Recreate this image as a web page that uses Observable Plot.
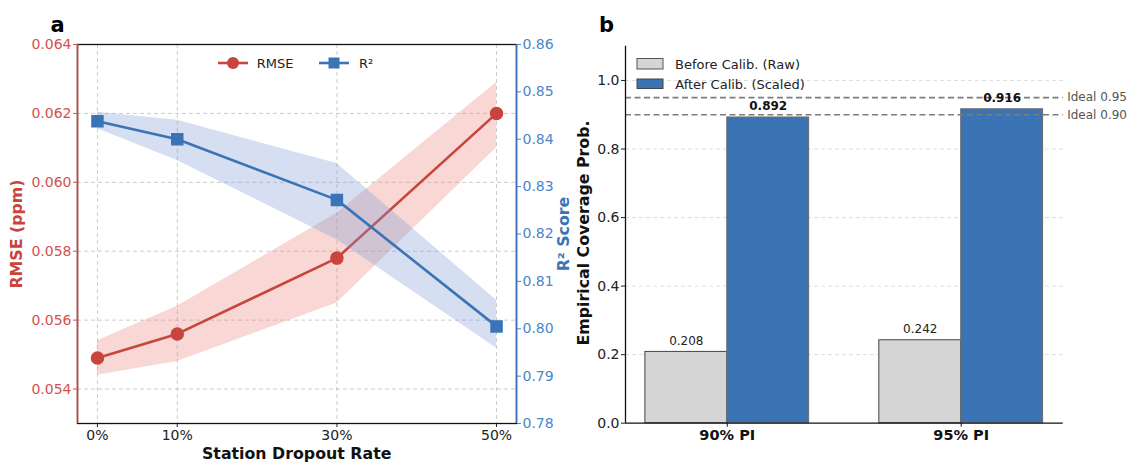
<!DOCTYPE html>
<html><head><meta charset="utf-8">
<script src="https://cdn.jsdelivr.net/npm/d3@7"></script>
<script src="https://cdn.jsdelivr.net/npm/@observablehq/plot@0.6"></script>
<style>
body{margin:0;background:#fff;font-family:"DejaVu Sans",sans-serif;}
#wrap{position:relative;width:1129px;height:465px;overflow:hidden;background:#fff;}
.lbl{position:absolute;white-space:nowrap;transform:translate(-50%,-50%);line-height:1;}
.rot{transform:translate(-50%,-50%) rotate(-90deg);}
</style></head><body><div id="wrap"></div>
<script>
// ---------- data ----------
const rates = [0, 10, 30, 50];
const rmse   = [0.0549, 0.0556, 0.0578, 0.0620];
const rmseLo = [0.0544, 0.0548, 0.0565, 0.0610];
const rmseHi = [0.0554, 0.0564, 0.0591, 0.0629];
const r2   = [0.8438, 0.8400, 0.8272, 0.8005];
const r2Lo = [0.8422, 0.8355, 0.8188, 0.7959];
const r2Hi = [0.8457, 0.8440, 0.8349, 0.8060];
const rmseTicks = [0.054, 0.056, 0.058, 0.060, 0.062, 0.064];
const r2Ticks = [0.78, 0.79, 0.80, 0.81, 0.82, 0.83, 0.84, 0.85, 0.86];

const groups = ["90% PI", "95% PI"];
const before = [0.208, 0.242];
const after  = [0.892, 0.916];
const ideals = [0.95, 0.90];
const covTicks = [0.0, 0.2, 0.4, 0.6, 0.8, 1.0];

// ---------- style ----------
const W = 1129, H = 465;
const RED = "#C8453D", RED_T = "#D4524B";
const BLUE = "#3A74B6", BLUE_T = "#4A86CA";
const wrap = document.getElementById("wrap");
const baseStyle = {background:"transparent", fontFamily:"DejaVu Sans, sans-serif", fontSize:"14px", overflow:"visible", maxWidth:"none"};
function place(svg){ svg.style.position="absolute"; svg.style.left="0px"; svg.style.top="0px"; wrap.appendChild(svg); }
function label(text, x, y, css, rot){
  const d=document.createElement("div"); d.className="lbl"+(rot?" rot":""); d.textContent=text;
  d.style.left=x+"px"; d.style.top=y+"px"; Object.assign(d.style, css); wrap.appendChild(d); return d;
}

const rows = rates.map((r,i)=>({rate:r, rmse:rmse[i], lo:rmseLo[i], hi:rmseHi[i], r2:r2[i], r2lo:r2Lo[i], r2hi:r2Hi[i]}));
const xDomA = [-2.5, 52.5];
const mA = {marginLeft:77, marginRight:W-516, marginTop:44, marginBottom:H-423};
const grid = {stroke:"#b8b8b8", strokeOpacity:0.8, strokeDasharray:"4,3", strokeWidth:0.9};

// Panel a: RMSE (left axis)
place(Plot.plot({width:W, height:H, ...mA, style:baseStyle,
  x:{domain:xDomA}, y:{domain:[0.053, 0.064]},
  marks:[
    Plot.gridX(rates, grid),
    Plot.gridY(rmseTicks, grid),
    Plot.areaY(rows, {x:"rate", y1:"lo", y2:"hi", fill:"#E8837A", fillOpacity:0.32}),
    Plot.line(rows, {x:"rate", y:"rmse", stroke:RED, strokeWidth:2.6}),
    Plot.dot(rows, {x:"rate", y:"rmse", r:6, fill:RED, stroke:RED, symbol:"circle"}),
    Plot.frame({stroke:"#111", strokeWidth:1.3}),
    Plot.ruleX([xDomA[0]], {stroke:RED, strokeWidth:1.6}),
    Plot.axisX({ticks:rates, tickFormat:d=>d+"%", tickSize:4, tickPadding:3, label:null, color:"#222"}),
    Plot.axisY({ticks:rmseTicks, tickFormat:d3.format(".3f"), tickSize:4, tickPadding:2, label:null, color:RED_T})
  ]}));

// Panel a: R² (right axis overlay)
place(Plot.plot({width:W, height:H, ...mA, style:baseStyle,
  x:{domain:xDomA, axis:null}, y:{domain:[0.78, 0.86]},
  marks:[
    Plot.areaY(rows, {x:"rate", y1:"r2lo", y2:"r2hi", fill:"#7C9AD4", fillOpacity:0.32}),
    Plot.line(rows, {x:"rate", y:"r2", stroke:BLUE, strokeWidth:2.6}),
    Plot.dot(rows, {x:"rate", y:"r2", r:6.2, fill:BLUE, stroke:BLUE, symbol:"square"}),
    Plot.ruleX([xDomA[1]], {stroke:BLUE, strokeWidth:1.6}),
    Plot.axisY({anchor:"right", ticks:r2Ticks, tickFormat:d3.format(".2f"), tickSize:4, tickPadding:2, label:null, color:BLUE_T})
  ]}));

// Panel b: coverage bars
const bw = 0.35;
const barRows = groups.flatMap((g,i)=>[
  {g, kind:"before", x1:i-bw, x2:i, v:before[i]},
  {g, kind:"after",  x1:i, x2:i+bw, v:after[i]}
]);
const befRows = barRows.filter(d=>d.kind==="before");
const aftRows = barRows.filter(d=>d.kind==="after");
const xDomB = [-0.435, 1.436];
place(Plot.plot({width:W, height:H, marginLeft:625, marginRight:W-1062.7, marginTop:45.7, marginBottom:H-422.7, style:baseStyle,
  x:{domain:xDomB}, y:{domain:[0, 1.1]},
  marks:[
    Plot.gridY(covTicks.filter(d=>d>0), {stroke:"#d0d0d0", strokeOpacity:0.8, strokeDasharray:"4,3", strokeWidth:0.9}),
    Plot.rect(befRows, {x1:"x1", x2:"x2", y1:0, y2:"v", fill:"#D5D5D5", stroke:"#444", strokeWidth:1}),
    Plot.rect(aftRows, {x1:"x1", x2:"x2", y1:0, y2:"v", fill:"#3A74B5", stroke:"#6b6b6b", strokeWidth:1}),
    Plot.ruleY(ideals, {stroke:"#7d7d7d", strokeWidth:1.6, strokeDasharray:"6,3.5"}),
    Plot.text(befRows, {x:d=>(d.x1+d.x2)/2, y:"v", text:d=>d.v.toFixed(3), dy:-11, fontSize:12, fill:"#222"}),
    Plot.text(aftRows, {x:d=>(d.x1+d.x2)/2, y:"v", text:d=>d.v.toFixed(3), dy:-11, fontSize:12, fontWeight:"bold", fill:"#111"}),
    Plot.text(ideals, {y:d=>d, text:d=>"Ideal "+d.toFixed(2), frameAnchor:"right", textAnchor:"start", dx:4, fontSize:12, fill:"#555"}),
    Plot.ruleY([0], {stroke:"#111", strokeWidth:1.3}),
    Plot.ruleX([xDomB[0]], {stroke:"#111", strokeWidth:1.3}),
    Plot.axisX({ticks:[0,1], tickFormat:i=>groups[i], tickSize:4, tickPadding:3, label:null, fontWeight:"bold", fontSize:14.5, color:"#111"}),
    Plot.axisY({ticks:covTicks, tickFormat:d3.format(".1f"), tickSize:4, tickPadding:2, label:null, color:"#222"})
  ]}));

// ---------- legends ----------
function legendSvg(x, y, w, h, build){
  const s = d3.create("svg").attr("width", w).attr("height", h)
    .style("position","absolute").style("left", x+"px").style("top", y+"px").style("overflow","visible");
  build(s); wrap.appendChild(s.node());
}
legendSvg(210, 52, 160, 22, s=>{
  s.append("line").attr("x1",8).attr("x2",38).attr("y1",11).attr("y2",11).attr("stroke",RED).attr("stroke-width",2.6);
  s.append("circle").attr("cx",23).attr("cy",11).attr("r",6).attr("fill",RED);
  s.append("line").attr("x1",109).attr("x2",139).attr("y1",11).attr("y2",11).attr("stroke",BLUE).attr("stroke-width",2.6);
  s.append("rect").attr("x",124-5.5).attr("y",11-5.5).attr("width",11).attr("height",11).attr("fill",BLUE);
});
label("RMSE", 275, 63, {fontSize:"13px", color:"#222"});
label("R²", 366, 63, {fontSize:"13px", color:"#222"});

legendSvg(630, 52, 40, 45, s=>{
  s.append("rect").attr("x",7).attr("y",6.5).attr("width",26).attr("height",10.5).attr("fill","#D5D5D5").attr("stroke","#555");
  s.append("rect").attr("x",7).attr("y",27).attr("width",26).attr("height",9.5).attr("fill","#3A74B5").attr("stroke","#444");
});
label("Before Calib. (Raw)", 737.5, 63.5, {fontSize:"13px", color:"#222"});
label("After Calib. (Scaled)", 740, 83.5, {fontSize:"13px", color:"#222"});

// ---------- titles ----------
label("a", 57.5, 25, {fontSize:"21px", fontWeight:"bold", color:"#000"});
label("b", 606.5, 25, {fontSize:"21px", fontWeight:"bold", color:"#000"});
label("RMSE (ppm)", 17, 234, {fontSize:"15.8px", fontWeight:"bold", color:RED}, true);
label("R² Score", 564, 234, {fontSize:"15.8px", fontWeight:"bold", color:BLUE}, true);
label("Empirical Coverage Prob.", 583.5, 232.5, {fontSize:"15.8px", fontWeight:"bold", color:"#111"}, true);
label("Station Dropout Rate", 296.7, 454, {fontSize:"15.8px", fontWeight:"bold", color:"#111"});
</script></body></html>
